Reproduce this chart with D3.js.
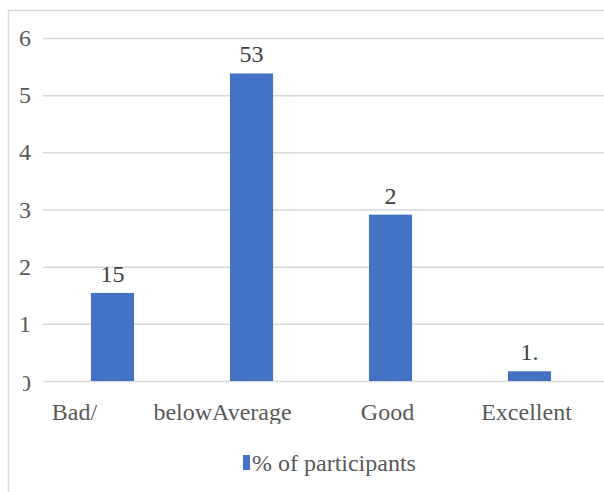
<!DOCTYPE html>
<html>
<head>
<meta charset="utf-8">
<script src="https://cdn.jsdelivr.net/npm/d3@7"></script>
</head>
<body style="margin:0">
<svg id="chart" width="604" height="492"></svg>
<script>
// data
let categories = ['Bad/', 'belowAverage', 'Good', 'Excellent'];
let values = [1.54, 5.38, 2.91, 0.17];
let valueLabels = ['15', '53', '2', '1.'];
let yTicks = [0, 1, 2, 3, 4, 5, 6];
let seriesName = '% of participants';

// category labels sit a bit left of the bar in the original
let labelShift = [-38, -29, -3, -3];

let w = 604, h = 492;
let m = {t: 38, b: 111, l: 43, r: 5};
let fs = 24;

let svg = d3.select('#chart');

// outer frame
svg.append('rect')
  .attr('x', 8.5).attr('y', 10.5)
  .attr('width', 620).attr('height', 500)
  .attr('fill', 'none')
  .attr('stroke', '#d9d9d9')
  .attr('stroke-width', 1.5);

let x = d3.scaleBand()
  .domain(categories)
  .range([m.l, w - m.r])
  .paddingInner(0.69)
  .paddingOuter(0.345);

let y = d3.scaleLinear()
  .domain([0, 6])
  .range([h - m.b, m.t]);

svg.append('clipPath').attr('id', 'ylabclip')
  .append('rect').attr('x', 23).attr('y', 0).attr('width', 20).attr('height', h);

svg.append('clipPath').attr('id', 'xlabclip')
  .append('rect').attr('x', 0).attr('y', 0).attr('width', w).attr('height', 424);

// gridlines
let yAxis = d3.axisLeft(y)
  .tickValues(yTicks)
  .tickSize(-(w - m.l))
  .tickFormat('');

let gy = svg.append('g')
  .attr('transform', `translate(${m.l},0)`)
  .call(yAxis);

gy.select('.domain').remove();
gy.selectAll('.tick text').remove();
gy.selectAll('.tick line')
  .attr('stroke', '#d9d9d9')
  .attr('stroke-width', 1.5);

// y labels (zero label is cut off at its left in the original)
svg.selectAll('text.ylab')
  .data(yTicks)
  .enter()
  .append('text')
  .attr('class', 'ylab')
  .attr('x', m.l - 12)
  .attr('y', (d) => y(d) + (d === 0 ? 10 : 8))
  .attr('text-anchor', 'end')
  .attr('clip-path', (d) => d === 0 ? 'url(#ylabclip)' : null)
  .attr('fill', '#595959')
  .attr('font-family', 'Liberation Serif')
  .attr('font-size', fs)
  .text((d) => d);

// bars
svg.selectAll('rect.bar')
  .data(values)
  .enter()
  .append('rect')
  .attr('class', 'bar')
  .attr('x', (d, i) => x(categories[i]))
  .attr('y', (d) => y(d))
  .attr('width', x.bandwidth())
  .attr('height', (d) => y(0) - y(d))
  .attr('fill', '#4472c4');

// value labels
svg.selectAll('text.val')
  .data(values)
  .enter()
  .append('text')
  .attr('class', 'val')
  .attr('x', (d, i) => x(categories[i]) + x.bandwidth() / 2)
  .attr('y', (d) => y(d) - 11)
  .attr('text-anchor', 'middle')
  .attr('fill', '#404040')
  .attr('font-family', 'Liberation Serif')
  .attr('font-size', fs)
  .text((d, i) => valueLabels[i]);

// category labels
svg.selectAll('text.cat')
  .data(categories)
  .enter()
  .append('text')
  .attr('class', 'cat')
  .attr('clip-path', 'url(#xlabclip)')
  .attr('x', (d, i) => x(d) + x.bandwidth() / 2 + labelShift[i])
  .attr('y', 420)
  .attr('text-anchor', 'middle')
  .attr('fill', '#595959')
  .attr('font-family', 'Liberation Serif')
  .attr('font-size', fs)
  .text((d) => d);

// legend
svg.append('rect')
  .attr('x', 243).attr('y', 455)
  .attr('width', 7).attr('height', 15)
  .attr('fill', '#4472c4');
svg.append('text')
  .attr('x', 252).attr('y', 471)
  .attr('fill', '#595959')
  .attr('font-family', 'Liberation Serif')
  .attr('font-size', fs)
  .text(seriesName);
</script>
</body>
</html>
